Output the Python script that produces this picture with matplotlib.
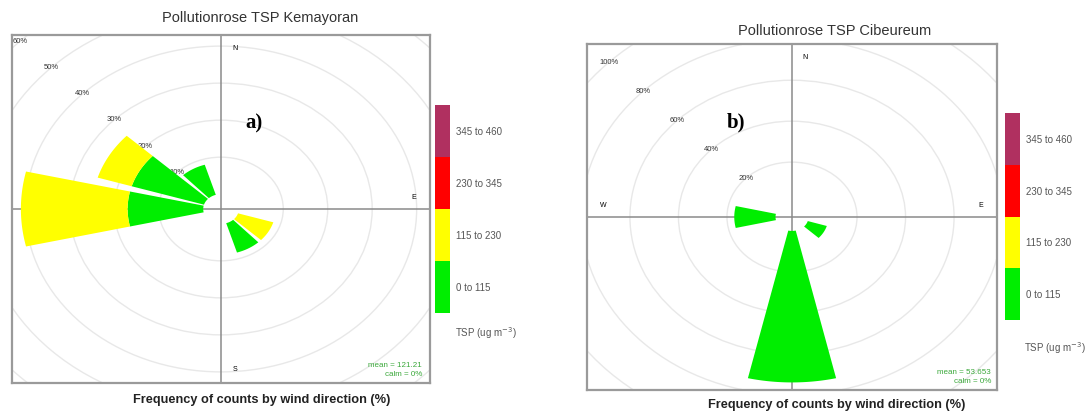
import numpy as np
import matplotlib
matplotlib.use("Agg")
import matplotlib.pyplot as plt
from matplotlib.patches import Circle
from matplotlib.colors import ListedColormap, BoundaryNorm
from matplotlib.cm import ScalarMappable

plt.rcParams['font.family'] = ['Liberation Sans', 'DejaVu Sans']

W, H = 1086, 412

# concentration bins (TSP, ug m-3)
bins = [0, 115, 230, 345, 460]
bin_labels = ["0 to 115", "115 to 230", "230 to 345", "345 to 460"]
bin_colors = ["#00ee00", "#ffff00", "#ff0000", "#b03060"]

# a) Kemayoran, frequency (%) per direction and bin
kem_dir = [120, 150, 270, 300, 330]
kem_0_115 = [0, 8.3, 17, 17, 8.5]
kem_115_230 = [8.3, 0, 24, 8, 0]
kem_230_345 = [0, 0, 0, 0, 0]
kem_345_460 = [0, 0, 0, 0, 0]
kem_rings = [10, 20, 30, 40, 50, 60]
kem_mean = "121.21"
kem_calm = "0%"

# b) Cibeureum
cib_dir = [120, 180, 270]
cib_0_115 = [8.2, 74, 17]
cib_115_230 = [0, 0, 0]
cib_230_345 = [0, 0, 0]
cib_345_460 = [0, 0, 0]
cib_rings = [20, 40, 60, 80, 100]
cib_mean = "53.653"
cib_calm = "0%"


def fx(x):
    return x / W


def fy(y):
    return 1 - y / H


def rose(box, dirs, freqs, rings, offset, lim, title, title_xy, xlab_xy,
         key_box, tsp_xy, mean, calm, mean_xy, tag, tag_xy):
    x0, y0, x1, y1 = box
    ax = fig.add_axes([fx(x0), fy(y1), (x1 - x0) / W, (y1 - y0) / H])
    ax.set_xlim(-lim, lim)
    ax.set_ylim(-lim, lim)
    ax.set_xticks([])
    ax.set_yticks([])
    for s in ax.spines.values():
        s.set_color('#9a9a9a')
        s.set_linewidth(1.6)

    for v in rings:
        ax.add_patch(Circle((0, 0), v + offset, fill=False, ec='#e8e8e8', lw=1.0, zorder=1))
        r = v + offset
        ax.text(-r * 0.7071, r * 0.7071, f"{v}%", ha='center', va='center',
                fontsize=5.5, color='#333333', zorder=2)
    ax.axhline(0, color='#8a8a8a', lw=1.1, zorder=2)
    ax.axvline(0, color='#8a8a8a', lw=1.1, zorder=2)

    d = 0.92 * lim
    e = 0.065 * lim
    ax.text(e, d, "N", fontsize=5, ha='center', va='center', zorder=2)
    ax.text(d, e, "E", fontsize=5, ha='center', va='center', zorder=2)
    ax.text(e, -d, "S", fontsize=5, ha='center', va='center', zorder=2)
    ax.text(-d, e, "W", fontsize=5, ha='center', va='center', zorder=2)

    for i, b in enumerate(dirs):
        r0 = offset
        th = np.radians(np.linspace(b - 13, b + 13, 40))
        for k in range(4):
            v = freqs[k][i]
            if v <= 0:
                continue
            r1 = r0 + v
            xs = np.concatenate([r1 * np.sin(th), r0 * np.sin(th[::-1])])
            ys = np.concatenate([r1 * np.cos(th), r0 * np.cos(th[::-1])])
            ax.fill(xs, ys, color=bin_colors[k], lw=0, zorder=3)
            r0 = r1

    fig.text(fx(mean_xy[0]), fy(mean_xy[1]), f"mean = {mean}\ncalm = {calm}",
             ha='right', va='center', fontsize=5.8, color='#3aa83a',
             linespacing=1.3, multialignment='right')

    fig.text(fx(title_xy[0]), fy(title_xy[1]), title, ha='center', va='center',
             fontsize=10.5, color='#333333')
    fig.text(fx(xlab_xy[0]), fy(xlab_xy[1]), "Frequency of counts by wind direction (%)",
             ha='center', va='center', fontsize=9.2, fontweight='bold', color='#222222')

    kx0, ky0, kx1, ky1 = key_box
    cax = fig.add_axes([fx(kx0), fy(ky1), (kx1 - kx0) / W, (ky1 - ky0) / H])
    sm = ScalarMappable(norm=BoundaryNorm(bins, 4), cmap=ListedColormap(bin_colors))
    centers = [(bins[j] + bins[j + 1]) / 2 for j in range(4)]
    cb = fig.colorbar(sm, cax=cax, ticks=centers)
    cb.set_ticklabels(bin_labels)
    cb.outline.set_visible(False)
    cax.minorticks_off()
    cax.tick_params(which='both', length=0, labelsize=7, pad=4, labelcolor='#555555')
    fig.text(fx(tsp_xy[0]), fy(tsp_xy[1]), "TSP (ug m$^{-3}$)", ha='left', va='center',
             fontsize=7, color='#555555')

    fig.text(fx(tag_xy[0]), fy(tag_xy[1]), tag, ha='center', va='center',
             fontsize=15, fontweight='bold', family='Liberation Serif')


fig = plt.figure(figsize=(W / 100, H / 100), dpi=100)

rose((12, 35, 430, 383), kem_dir, [kem_0_115, kem_115_230, kem_230_345, kem_345_460],
     kem_rings, 4.0, 47, "Pollutionrose TSP Kemayoran", (260, 18), (262, 400),
     (435, 105, 450, 313), (455, 333), kem_mean, kem_calm, (422, 370), "a)", (254, 123))

rose((587, 44, 997, 390), cib_dir, [cib_0_115, cib_115_230, cib_230_345, cib_345_460],
     cib_rings, 6.8, 84.5, "Pollutionrose TSP Cibeureum", (835, 31), (837, 405),
     (1005, 113, 1020, 320), (1024, 348), cib_mean, cib_calm, (991, 377), "b)", (736, 122))

fig.savefig("out.png", dpi=100)
